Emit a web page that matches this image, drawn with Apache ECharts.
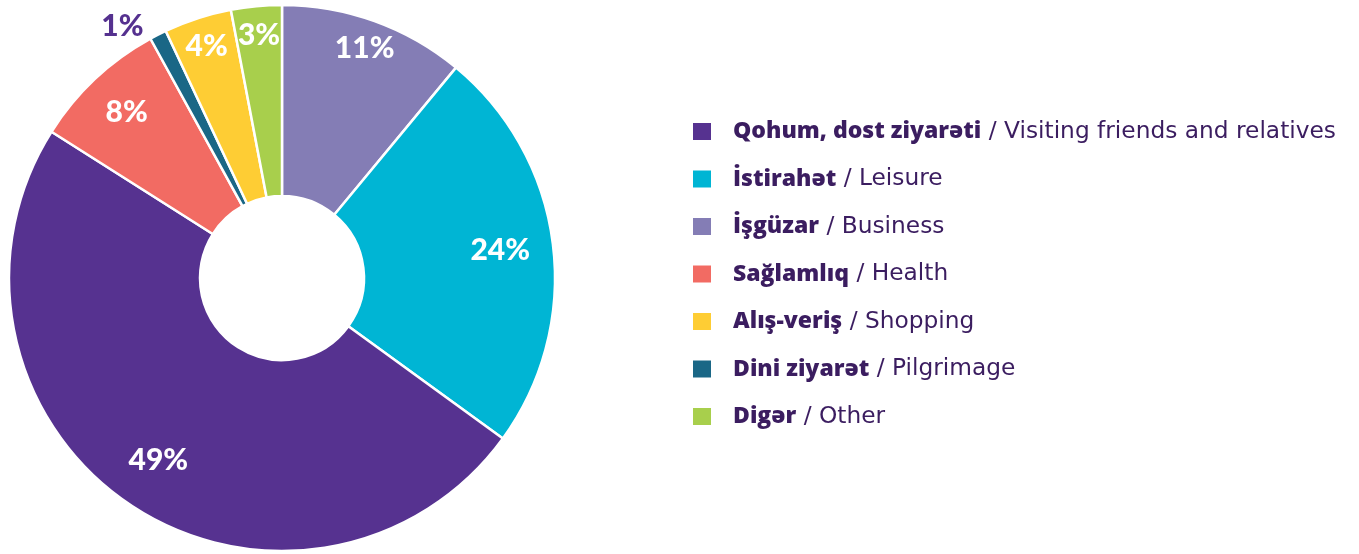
<!DOCTYPE html>
<html>
<head>
<meta charset="utf-8">
<script src="https://cdn.jsdelivr.net/npm/echarts@6/dist/echarts.min.js"></script>
<style>
html,body{margin:0;padding:0;background:#fff;}
#chart{width:1359px;height:554px;}
</style>
</head>
<body>
<div id="chart"></div>
<script>
// Slices in clockwise order from 12 o'clock
const namesAz = ['İşgüzar', 'İstirahət', 'Qohum, dost ziyarəti', 'Sağlamlıq', 'Dini ziyarət', 'Alış-veriş', 'Digər'];
const namesEn = ['Business', 'Leisure', 'Visiting friends and relatives', 'Health', 'Pilgrimage', 'Shopping', 'Other'];
const values = [11, 24, 49, 8, 1, 4, 3];
const colors = ['#847db5', '#00b5d4', '#563290', '#f26b63', '#1a6786', '#fecd34', '#a8cf4c'];
// Legend order
const legendOrder = ['Qohum, dost ziyarəti', 'İstirahət', 'İşgüzar', 'Sağlamlıq', 'Alış-veriş', 'Dini ziyarət', 'Digər'];
// Label groups (by slice index)
const labelsMid = [1, 2];
const labelsHealth = [3];
const labelsOuterRing = [0, 5, 6];
const labelsOutside = [4];

const chart = echarts.init(document.getElementById('chart'));
const center = [282, 278];
const pctFont = { fontFamily: 'Lato', fontWeight: 900, fontSize: 30 };

function labelSeries(radiusOuter, showIdx) {
  return {
    type: 'pie',
    center: center,
    radius: [0, radiusOuter],
    startAngle: 90,
    clockwise: true,
    silent: true,
    avoidLabelOverlap: false,
    emphasis: { disabled: true },
    itemStyle: { color: 'rgba(0,0,0,0)', borderWidth: 0 },
    labelLine: { show: false },
    label: Object.assign({
      position: 'inside',
      formatter: '{c}%',
      color: '#ffffff'
    }, pctFont),
    data: values.map((v, i) => ({
      name: namesAz[i],
      value: v,
      label: { show: showIdx.indexOf(i) >= 0 }
    }))
  };
}

const option = {
  animation: false,
  backgroundColor: '#ffffff',
  legend: {
    orient: 'vertical',
    left: 686,
    top: 115,
    itemWidth: 20,
    itemHeight: 19,
    itemGap: 24.5,
    selectedMode: false,
    icon: 'rect',
    data: legendOrder.map(n => ({ name: n, itemStyle: { color: colors[namesAz.indexOf(n)] } })),
    formatter: function (name) {
      const i = namesAz.indexOf(name);
      return '{b|' + name + '}{r| / ' + namesEn[i] + '}';
    },
    textStyle: {
      padding: [0, 0, 0, 16],
      fontSize: 23,
      rich: {
        b: { fontFamily: 'Open Sans', fontWeight: 800, fontSize: 23, color: '#3b1d60' },
        r: { fontFamily: 'DejaVu Sans', fontWeight: 400, fontSize: 23.3, color: '#3b1d60' }
      }
    }
  },
  series: [
    {
      type: 'pie',
      center: center,
      radius: [82, 273],
      startAngle: 90,
      clockwise: true,
      avoidLabelOverlap: false,
      label: Object.assign({ show: false, position: 'outside', formatter: '{c}%', color: '#55318f', distanceToLabelLine: 5 }, pctFont),
      labelLine: { show: false, length: 10, length2: 5 },
      itemStyle: { borderColor: '#ffffff', borderWidth: 2.5 },
      data: values.map((v, i) => ({
        name: namesAz[i],
        value: v,
        itemStyle: { color: colors[i] },
        label: { show: labelsOutside.indexOf(i) >= 0 }
      }))
    },
    labelSeries(434, labelsMid),
    labelSeries(448, labelsHealth),
    labelSeries(482, labelsOuterRing)
  ]
};
chart.setOption(option);
</script>
</body>
</html>
